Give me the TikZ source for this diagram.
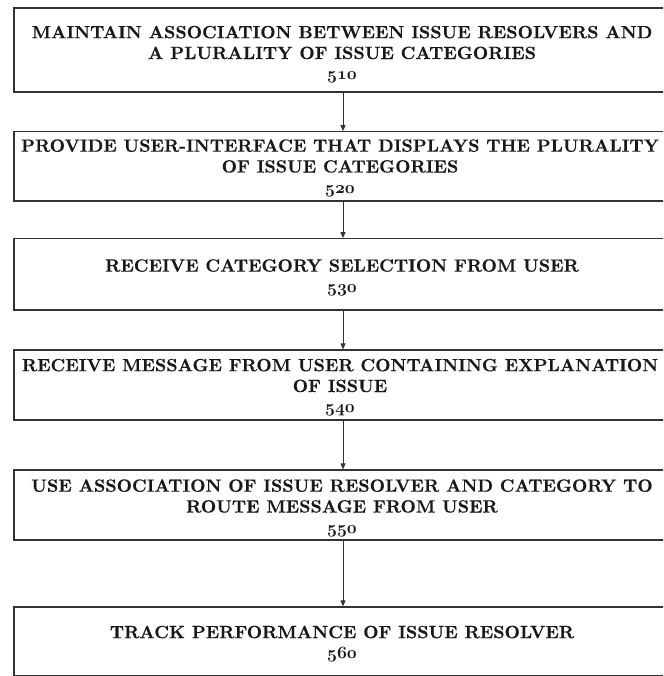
\documentclass[tikz,border=0pt]{standalone}
\usepackage{fontspec}
\newfontfamily\boxfont{lmroman10-bold}[Extension=.otf, FakeBold=0.25]
\newcommand{\stepnum}[1]{{\fontsize{19}{21}\usefont{OML}{cmm}{b}{it}#1}}
\usetikzlibrary{arrows.meta}
\begin{document}
\begin{tikzpicture}[x=1pt,y=-1pt,
  box/.style={draw=black!80, line width=1.2pt, minimum width=658pt, inner sep=0pt},
  txt/.style={align=center, inner sep=0pt, font=\boxfont\fontsize{17.75}{20.8}\selectfont, text=black!90},
  arr/.style={-{Triangle[length=6pt,width=5pt]}, line width=0.8pt, draw=black!80}]
\useasboundingbox (0,0) rectangle (663,676);
\clip (0,0) rectangle (663,676);
\node[box, minimum height=84pt] (b510) at (343,50) {};
\node[box, minimum height=69.3pt] (b520) at (343,166.4) {};
\node[box, minimum height=71.3pt] (b530) at (343,274.3) {};
\node[box, minimum height=70pt] (b540) at (343,385) {};
\node[box, minimum height=70pt] (b550) at (343,505) {};
\node[box, minimum height=68.5pt] (b560) at (343,641.2) {};
\node[txt] (t510) at (342,54.5)
  {MAINTAIN ASSOCIATION BETWEEN ISSUE RESOLVERS AND\\A PLURALITY OF ISSUE CATEGORIES\\\stepnum{510}};
\node[txt] (t520) at (340,168)
  {PROVIDE USER-INTERFACE THAT DISPLAYS THE PLURALITY\\OF ISSUE CATEGORIES\\\stepnum{520}};
\node[txt] (t530) at (342,277.5)
  {RECEIVE CATEGORY SELECTION FROM USER\\\stepnum{530}};
\node[txt] (t540) at (340,387.5)
  {RECEIVE MESSAGE FROM USER CONTAINING EXPLANATION\\OF ISSUE\\\stepnum{540}};
\node[txt] (t550) at (342,508)
  {USE ASSOCIATION OF ISSUE RESOLVER AND CATEGORY TO\\ROUTE MESSAGE FROM USER\\\stepnum{550}};
\node[txt] (t560) at (342,644)
  {TRACK PERFORMANCE OF ISSUE RESOLVER\\\stepnum{560}};
\draw[arr] (b510) -- (b520);
\draw[arr] (b520) -- (b530);
\draw[arr] (b530) -- (b540);
\draw[arr] (b540) -- (b550);
\draw[arr] (b550) -- (b560);
\end{tikzpicture}
\end{document}
